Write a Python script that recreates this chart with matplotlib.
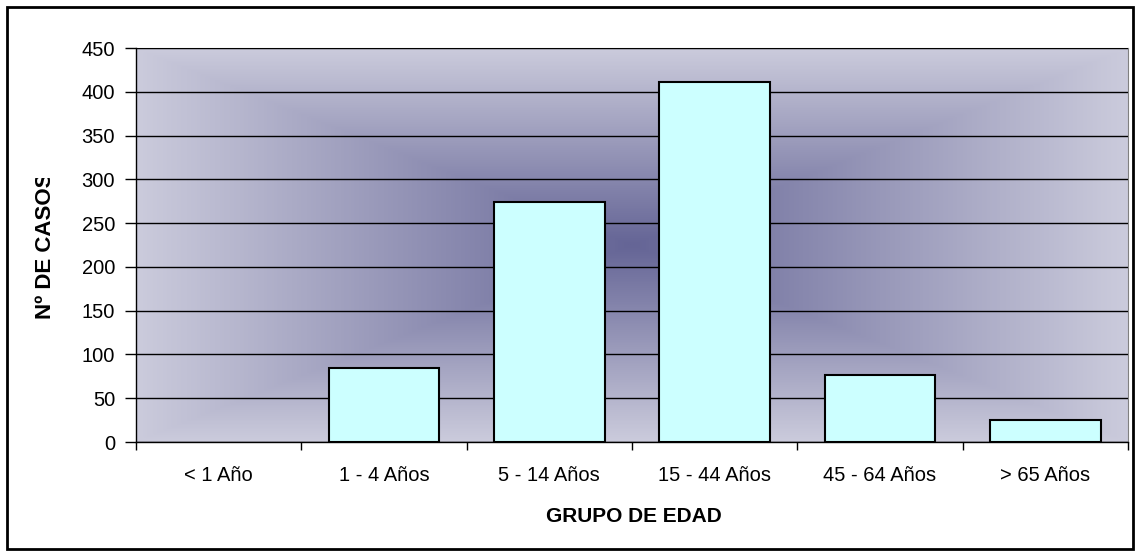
import matplotlib
matplotlib.use('Agg')
import matplotlib.pyplot as plt
import numpy as np
from matplotlib.patches import Rectangle
from matplotlib.transforms import Bbox, TransformedBbox
from matplotlib.colors import LinearSegmentedColormap

plt.rc('font', family=['Liberation Sans', 'DejaVu Sans'], size=14.5)

grupos = ['< 1 Año', '1 - 4 Años', '5 - 14 Años', '15 - 44 Años', '45 - 64 Años', '> 65 Años']
casos = [0, 84, 274, 411, 77, 25]

fig = plt.figure(figsize=(11.38, 5.56), dpi=100)
W, H = 1138, 556
ax = fig.add_axes([136/W, 1 - 442/H, (1128-136)/W, (442-48)/H])

# fondo degradado "desde el centro"
nx, ny = 400, 200
gx = np.abs(np.linspace(-1, 1, nx))
gy = np.abs(np.linspace(-1, 1, ny))
d = np.maximum(gx[None, :], gy[:, None])
cmap = LinearSegmentedColormap.from_list('fondo', ['#656596', '#cbcbdc'])
ax.imshow(d, cmap=cmap, extent=[-0.5, 5.5, 0, 450], aspect='auto', zorder=0, interpolation='bilinear')

x = np.arange(len(grupos))
lws = [1.5 if c > 0 else 0 for c in casos]
ax.bar(x, casos, width=0.67, color='#ccffff', edgecolor='black', linewidth=lws, zorder=3)

ax.set_xlim(-0.5, 5.5)
ax.set_ylim(0, 450)
ax.set_yticks(np.arange(0, 451, 50))
ax.yaxis.grid(True, color='black', linewidth=1)
ax.set_axisbelow(False)
for gl in ax.get_ygridlines():
    gl.set_zorder(1)

ax.set_xticks(np.arange(-0.5, 6, 1))
ax.set_xticklabels([])
ax.set_xticks(x, minor=True)
ax.set_xticklabels(grupos, minor=True)
ax.tick_params(axis='x', which='major', direction='out', length=6, width=1)
ax.tick_params(axis='x', which='minor', length=0, pad=17.5)
ax.tick_params(axis='y', direction='out', length=8, width=1, pad=7)

ax.spines['top'].set_color('#808080')
ax.spines['right'].set_color('#808080')
ax.spines['left'].set_linewidth(1)
ax.spines['bottom'].set_linewidth(1)

fig.text(634/W, 1 - 516/H, 'GRUPO DE EDAD', ha='center', va='center', fontweight='bold', fontsize=15)
yl = fig.text(46/W, 1 - 246/H, 'Nº DE CASOS', ha='center', va='center', rotation=90,
              fontweight='bold', fontsize=16)
yl.set_clip_box(TransformedBbox(Bbox([[0, 0], [0.2, 1 - 178/H]]), fig.transFigure))
yl.set_clip_on(True)

fig.patches.append(Rectangle((7/W, 7/H), (1133-7)/W, (549-7)/H, transform=fig.transFigure,
                             fill=False, edgecolor='black', linewidth=2))

fig.savefig('out.png', dpi=100)
